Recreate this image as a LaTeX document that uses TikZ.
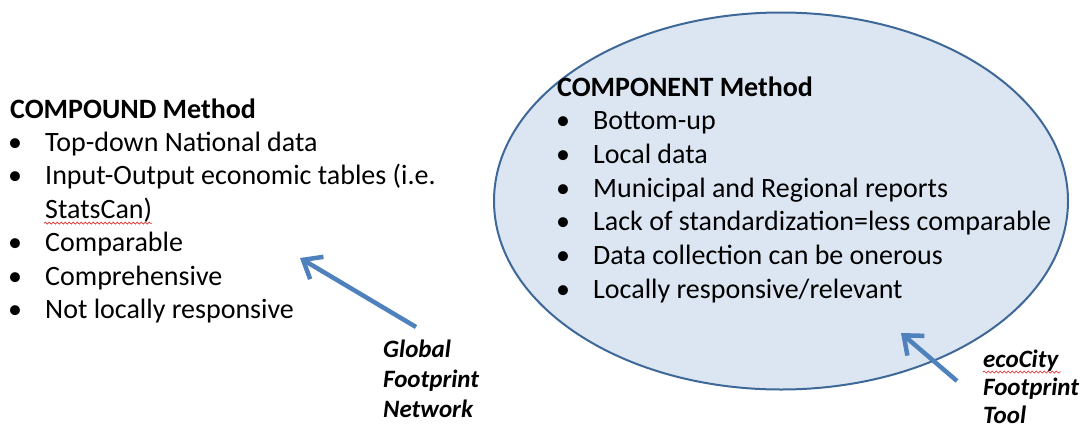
\documentclass[tikz,border=0pt]{standalone}
\usepackage{fontspec}
\setmainfont{Carlito}
\usetikzlibrary{decorations.pathmorphing,arrows.meta,shapes.geometric}
\definecolor{ellfill}{HTML}{DCE6F2}
\definecolor{elldraw}{HTML}{3D6898}
\definecolor{arrowblue}{HTML}{4F81BD}
\definecolor{spellred}{HTML}{E03030}
\tikzset{
  txt/.style={anchor=base west, inner sep=0pt, font=\fontsize{28}{33}\selectfont},
  ttl/.style={txt, font=\fontsize{28}{33}\selectfont\bfseries},
  bul/.style={anchor=base, inner sep=0pt, font=\fontsize{28}{33}\selectfont},
  lbl/.style={anchor=base west, inner sep=0pt, font=\fontsize{25}{30}\selectfont\bfseries\itshape},
  pointer/.style={draw=arrowblue, line width=4.5pt, -{Straight Barb[length=16pt,width=26pt,line width=4.5pt]}},
  spell/.style={draw=spellred, line width=0.7pt, decorate, decoration={snake, amplitude=1pt, segment length=4pt}}
}
\begin{document}
\begin{tikzpicture}[x=1pt,y=-1pt]
\useasboundingbox (0,0) rectangle (1085,429);
% ellipse
\node (ell) [draw=elldraw, line width=2pt, fill=ellfill, ellipse, minimum width=574pt, minimum height=377pt, inner sep=0pt] at (781,201) {};
% left list
\node[ttl] (t1) at (10,118) {COMPOUND Method};
\foreach \y/\t [count=\i] in {151.4/Top-down National data,184.8/Input-Output economic tables (i.e.,251.6/Comparable,285/Comprehensive,318.4/Not locally responsive}{
  \node[bul] (lb\i) at (15,\y) {•};
  \node[txt] (l\i) at (45,\y) {\t};
}
\node[txt] (l2b) at (45,218.2) {StatsCan)};
\draw[spell] (l2b.base west) ++(-1,5) -- ++(108,0);
% right list
\node[ttl] (t2) at (557,96) {COMPONENT Method};
\foreach \y/\t [count=\i] in {129.7/Bottom-up,163.4/Local data,197/Municipal and Regional reports,230.8/Lack of standardization=less comparable,264.5/Data collection can be onerous,298.2/{Locally responsive/relevant}}{
  \node[bul] (rb\i) at (563,\y) {•};
  \node[txt] (r\i) at (593,\y) {\t};
}
% labels
\node[lbl] (g1) at (383,357) {Global};
\node[lbl] (g2) at (383,387) {Footprint};
\node[lbl] (g3) at (383,417) {Network};
\node[lbl] (e1) at (983,367) {ecoCity};
\node[lbl] (e2) at (983,395) {Footprint};
\node[lbl] (e3) at (983,423) {Tool};
\draw[spell] (e1.base west) ++(0,5) -- ++(78,0);
% arrows
\coordinate (a1s) at (416,327);
\coordinate (a1e) at (300,258);
\coordinate (a2s) at (957,381);
\coordinate (a2e) at (901,333);
\draw[pointer] (a1s) -- (a1e);
\draw[pointer] (a2s) -- (a2e);
\end{tikzpicture}
\end{document}
